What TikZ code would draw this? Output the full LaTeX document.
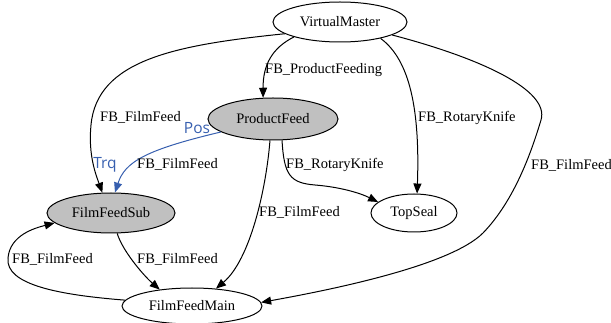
\documentclass[tikz,border=0pt]{standalone}
\usepackage{fontspec}
\setmainfont{Liberation Serif}
\newfontfamily\portfont{Open Sans}
\usepackage{tikz}
\usetikzlibrary{shapes.geometric,arrows.meta}
\definecolor{portblue}{RGB}{55,95,175}
\definecolor{subgray}{RGB}{192,192,192}

\tikzset{
  fb/.style={draw,ellipse,inner sep=0pt,line width=1pt,font=\fontsize{14.5}{16}\selectfont},
  sub/.style={fb,fill=subgray},
  lbl/.style={anchor=west,inner sep=0pt,font=\fontsize{14.5}{16}\selectfont},
  port/.style={inner sep=0pt,text=portblue,font=\portfont\fontsize{15.5}{17}\selectfont},
  link/.style={line width=1pt,-{Triangle[length=10pt,width=8pt]}}
}

\begin{document}
\begin{tikzpicture}[x=1pt,y=-1pt]
\useasboundingbox (0,0) rectangle (611,323);

\node[fb,minimum width=134pt,minimum height=40pt] (vm) at (340,22) {VirtualMaster};
\node[sub,minimum width=130pt,minimum height=42pt] (pf) at (273,119) {ProductFeed};
\node[sub,minimum width=128pt,minimum height=40pt] (ffs) at (111,213) {FilmFeedSub};
\node[fb,minimum width=86pt,minimum height=38pt] (ts) at (414,213) {TopSeal};
\node[fb,minimum width=140pt,minimum height=36pt] (ffm) at (192,306) {FilmFeedMain};

\draw[link] (vm.198) .. controls (272,48) and (263,65) .. (pf.115);
\draw[link] (vm.192) .. controls (175,45) and (97,60) .. (91,125) .. controls (88,155) and (96,175) .. (ffs.113);
\draw[link] (vm.338) .. controls (410,60) and (420,110) .. (ts.81);
\draw[link] (vm.346) .. controls (480,58) and (550,90) .. (541,120) .. controls (532,150) and (515,200) .. (483,233) .. controls (450,266) and (330,290) .. (ffm.3);
\draw[link,portblue] (pf.194) .. controls (145,150) and (125,162) .. (ffs.79);
\draw[link] (pf.293) .. controls (284,175) and (290,183) .. (315,185) .. controls (340,187) and (360,193) .. (ts.163);
\draw[link] (pf.262) .. controls (266,190) and (250,260) .. (ffm.36);
\draw[link] (ffs.287) .. controls (122,250) and (143,275) .. (ffm.153);
\draw[link] (ffm.175) .. controls (60,295) and (5,285) .. (8,258) .. controls (10,235) and (35,228) .. (ffs.190);

\node[lbl] (l1) at (265,70) {FB\_ProductFeeding};
\node[lbl] (l2) at (100,117) {FB\_FilmFeed};
\node[lbl] (l3) at (418,118) {FB\_RotaryKnife};
\node[lbl] (l4) at (531,165) {FB\_FilmFeed};
\node[lbl] (l5) at (137,164) {FB\_FilmFeed};
\node[lbl] (l6) at (286,165) {FB\_RotaryKnife};
\node[lbl] (l7) at (259,212) {FB\_FilmFeed};
\node[lbl] (l8) at (137,259) {FB\_FilmFeed};
\node[lbl] (l9) at (12,259) {FB\_FilmFeed};
\node[port] (pos) at (197,128) {Pos};
\node[port] (trq) at (105,165) {Trq};

\end{tikzpicture}
\end{document}
